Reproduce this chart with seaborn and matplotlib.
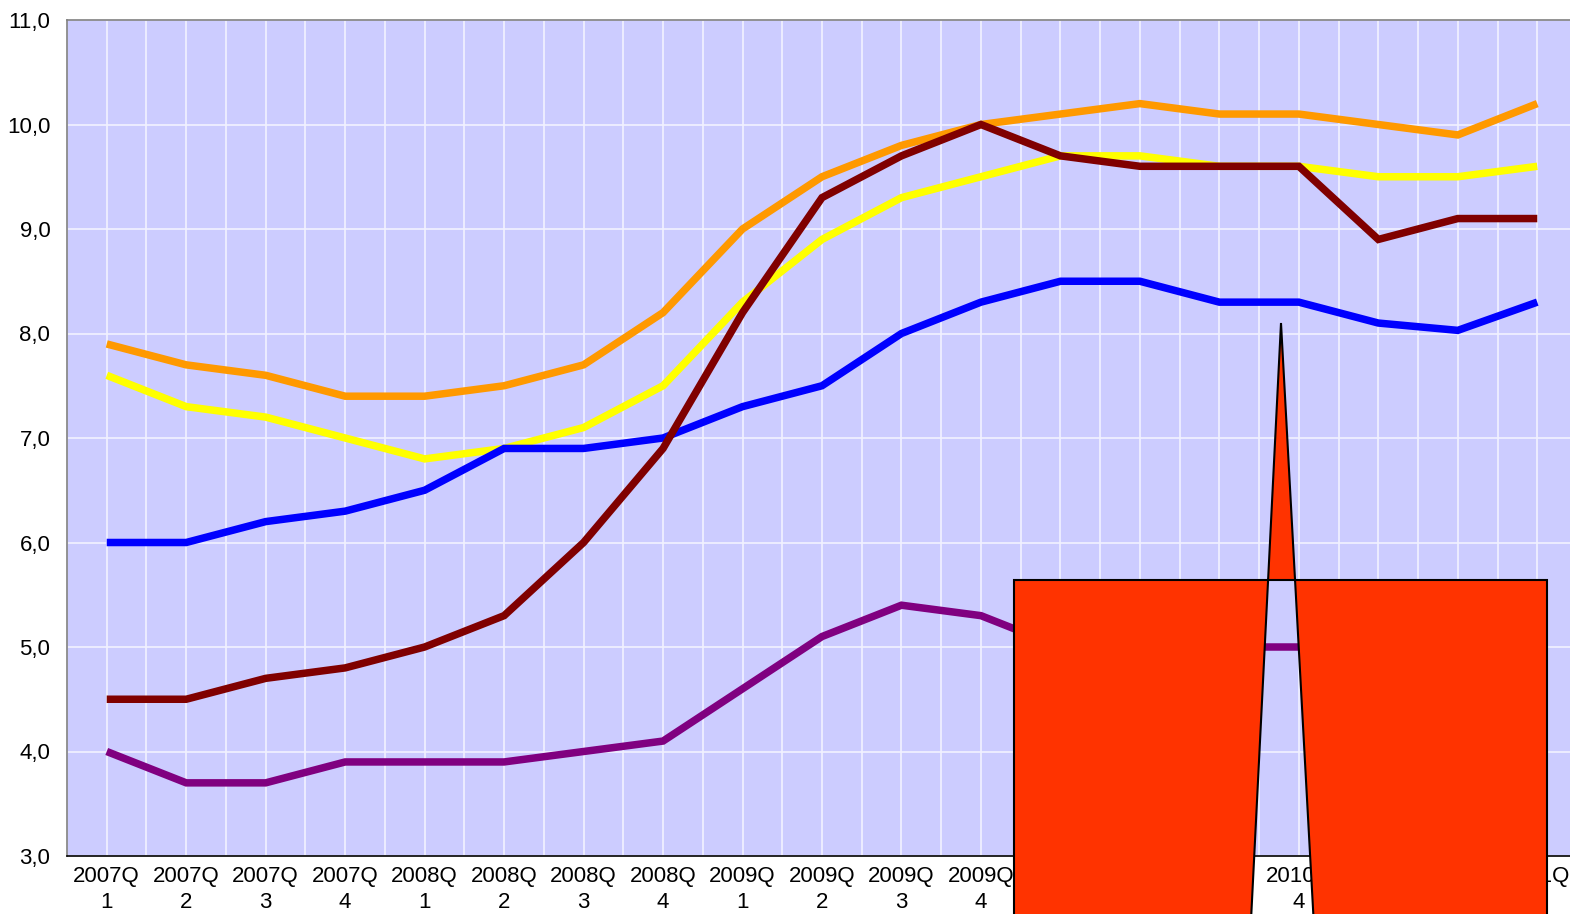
import numpy as np
import pandas as pd
import matplotlib
matplotlib.use("Agg")
import matplotlib.pyplot as plt
import seaborn as sns
from matplotlib.path import Path
from matplotlib.patches import PathPatch
from matplotlib.ticker import FixedLocator, FuncFormatter

# quarters on the x axis
quarters = ["2007Q1", "2007Q2", "2007Q3", "2007Q4",
            "2008Q1", "2008Q2", "2008Q3", "2008Q4",
            "2009Q1", "2009Q2", "2009Q3", "2009Q4",
            "2010Q1", "2010Q2", "2010Q3", "2010Q4",
            "2011Q1", "2011Q2", "2011Q3"]

# series values
orange_vals = [7.9, 7.7, 7.6, 7.4, 7.4, 7.5, 7.7, 8.2, 9.0, 9.5,
               9.8, 10.0, 10.1, 10.2, 10.1, 10.1, 10.0, 9.9, 10.2]
yellow_vals = [7.6, 7.3, 7.2, 7.0, 6.8, 6.9, 7.1, 7.5, 8.3, 8.9,
               9.3, 9.5, 9.7, 9.7, 9.6, 9.6, 9.5, 9.5, 9.6]
blue_vals = [6.0, 6.0, 6.2, 6.3, 6.5, 6.9, 6.9, 7.0, 7.3, 7.5,
             8.0, 8.3, 8.5, 8.5, 8.3, 8.3, 8.1, 8.03, 8.3]
maroon_vals = [4.5, 4.5, 4.7, 4.8, 5.0, 5.3, 6.0, 6.9, 8.2, 9.3,
               9.7, 10.0, 9.7, 9.6, 9.6, 9.6, 8.9, 9.1, 9.1]
purple_vals = [4.0, 3.7, 3.7, 3.9, 3.9, 3.9, 4.0, 4.1, 4.6, 5.1,
               5.4, 5.3, 5.0, 5.0, 5.0, 5.0, 4.9, 4.9, 5.0]

series_names = ["yellow", "orange", "blue", "maroon", "purple"]  # draw order
series_vals = [yellow_vals, orange_vals, blue_vals, maroon_vals, purple_vals]
palette = {"yellow": "#FFFF00", "orange": "#FF9900", "blue": "#0000FF",
           "maroon": "#800000", "purple": "#800080"}

y_ticks = [3, 4, 5, 6, 7, 8, 9, 10, 11]

df = pd.concat([pd.DataFrame({"quarter": quarters, "value": v, "series": n})
                for n, v in zip(series_names, series_vals)], ignore_index=True)

sns.set_style("white")
plt.rcParams["font.family"] = ["Liberation Sans", "DejaVu Sans"]

W, H = 1570, 914
fig = plt.figure(figsize=(W / 100, H / 100), dpi=100)
ax = fig.add_axes([67 / W, (H - 856) / H, 1510 / W, (856 - 20) / H])
ax.set_facecolor("#CCCCFF")

sns.lineplot(data=df, x="quarter", y="value", hue="series",
             hue_order=series_names, palette=palette, linewidth=5.4,
             sort=False, legend=False, ax=ax)
for line in ax.get_lines():
    line.set_solid_capstyle("butt")
    line.set_solid_joinstyle("miter")

n = len(quarters)
ax.set_xlim(-0.5, n - 0.5)
ax.set_ylim(y_ticks[0], y_ticks[-1])
ax.set_xlabel("")
ax.set_ylabel("")

ax.xaxis.set_major_locator(FixedLocator(np.arange(n)))
ax.xaxis.set_minor_locator(FixedLocator(np.arange(n + 1) - 0.5))
ax.set_xticklabels([q[:-1] + "\n" + q[-1] for q in quarters],
                   fontsize=16, linespacing=1.3, color="black")
ax.set_yticks(y_ticks)
ax.yaxis.set_major_formatter(FuncFormatter(lambda v, _: f"{v:.1f}".replace(".", ",")))
ax.tick_params(axis="y", length=0, pad=12, labelsize=16, labelcolor="black")
ax.tick_params(axis="x", which="major", length=0, pad=7)
ax.tick_params(axis="x", which="minor", length=50, width=1, color="black",
               direction="out")

ax.grid(which="both", axis="x", color="#F2F2FF", linewidth=1.2)
ax.grid(which="major", axis="y", color="#F2F2FF", linewidth=1.2)

for side in ["left", "top", "right"]:
    ax.spines[side].set_color("#808080")
    ax.spines[side].set_linewidth(1.2)
ax.spines["bottom"].set_color("black")
ax.spines["bottom"].set_linewidth(1.2)


# red callout overlay, drawn in figure pixels
def fp(px, py):
    return (px / W, 1 - py / H)


rect = [fp(1014, 580), fp(1014, 1000), fp(1547, 1000), fp(1547, 580), fp(1014, 580)]
tri = [fp(1281, 323), fp(1318, 1000), fp(1247, 1000), fp(1281, 323)]
verts = rect + tri
codes = ([Path.MOVETO] + [Path.LINETO] * 3 + [Path.CLOSEPOLY]
         + [Path.MOVETO] + [Path.LINETO] * 2 + [Path.CLOSEPOLY])
patch = PathPatch(Path(verts, codes), facecolor="#FF3300", edgecolor="black",
                  linewidth=1.5, transform=fig.transFigure, zorder=10)
fig.add_artist(patch)

fig.savefig("out.png", dpi=100)
plt.close(fig)
